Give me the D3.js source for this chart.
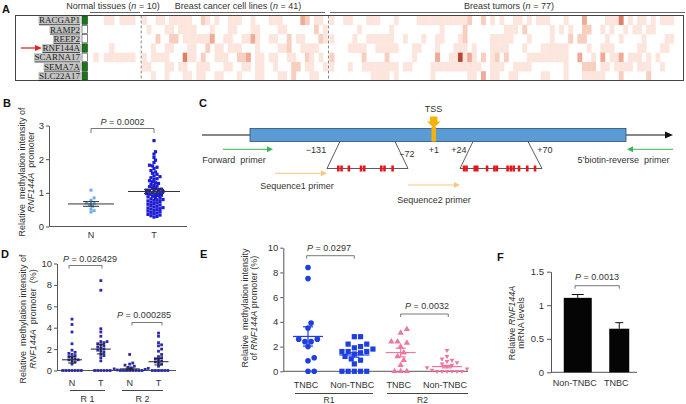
<!DOCTYPE html>
<html><head><meta charset="utf-8">
<script src="https://cdn.jsdelivr.net/npm/d3@7/dist/d3.min.js"></script>
<style>html,body{margin:0;padding:0;background:#fff}svg{display:block}text{white-space:pre}</style>
</head><body>
<svg id="fig" width="686" height="404"></svg>
<script>
// ================= DATA =================
const genes = ["RACGAP1","RAMP2","REEP2","RNF144A","SCARNA17","SEMA7A","SLC22A17"];
const geneMarked = [1,0,0,1,0,1,1];
const highlightGene = "RNF144A";
const heatGroupNames = ["Normal tissues","Breast cancer cell lines","Breast tumors"];
// methylation level per cell (0 = none ... 5 = highest), one string per gene
const heatNormal = [
  "0001101110","0000000000","0000000000","0000100000","0101111110","0000000000","0000000000"];
const heatCellLines = [
  ["1001101111","1002101001","1100100011","1000032011","0"],
  ["0100011011","1100010001","1000110000","1100000020","1"],
  ["0002002201","1111130011","0011310011","0020110002","1"],
  ["0010011000","1100201101","1100010000","1120011110","0"],
  ["1011110004","1102001110","0223011011","0011002101","0"],
  ["1100011011","0011100011","0011011001","0002201100","1"],
  ["0010010001","1011001100","0100011000","1102000110","0"]].map(a => a.join(""));
const heatTumors = [
  ["1001100011","1000100001","1111111111","2002010100","1101011100","0100030000","1114010110","1011100"],
  ["0000001000","0001000000","0000100002","0000000011","1020000010","1010022001","0100101101","1000000"],
  ["1000010011","1111001000","1001100012","0000011111","0001000010","0020220000","1001000010","0001100"],
  ["0000111100","1111100011","0001000111","0100011110","0010001111","1100001001","1100000110","0011000"],
  ["2000000200","0020000010","0003001151","3102012020","0001111111","1100300103","0113011101","0100000"],
  ["1000100111","1111101100","0011111111","1110011100","1111000000","0100022201","1011110111","0010000"],
  ["0000000001","1110100000","0010000000","1103011001","1000001100","0100011111","0002000002","0000000"]].map(a => a.join(""));

// Panel B
const bCats = ["N","T"];
const bNormal = [1.08,0.85,0.78,0.70,0.68,0.65,0.60,0.52,0.47,0.43];
const bTumor = [2.55,2.22,2.15,2.05,1.97,1.90,1.82,1.80,1.76,1.72,
  1.66,1.62,1.58,1.55,1.50,1.48,1.45,1.42,1.40,1.36,
  1.33,1.30,1.28,1.25,1.22,1.20,1.18,1.15,1.13,1.11,
  1.10,1.08,1.06,1.05,1.04,1.02,1.00,0.99,0.98,0.96,
  0.95,0.93,0.92,0.90,0.88,0.86,0.84,0.82,0.80,0.79,
  0.78,0.76,0.74,0.72,0.70,0.68,0.66,0.64,0.62,0.60,
  0.58,0.56,0.55,0.53,0.52,0.50,0.48,0.46,0.44,0.42,
  0.40,0.38,0.36,0.34,0.32,0.30,0.28];
const bMean = [0.67,1.04];
const bSem = [0.07,0.06];
const bP = "0.0002";
const bTicks = [0,1,2,3];

// Panel D
const dCats = ["N","T","N","T"];
const dRegions = ["R 1","R 2"];
const dR1N = [4.8,4.3,3.6,2.5,1.9,1.7,1.6,1.5,1.4,1.3,1.2,1.1,1.0,1.0,0.9,0.8,0.6,0,0,0,0,0,0,0];
const dR1T = [8.4,7.5,3.9,3.6,3.2,2.7,2.7,2.6,2.5,2.4,2.3,2.2,2.1,2.0,1.9,1.8,1.7,1.5,1.4,1.2,0.9,0,0,0,0,0,0];
const dR2N = [1.5,0.7,0.6,0.5,0.4,0.3,0.25,0.2,0.15,0.1,0.05,0,0,0,0,0,0,0,0];
const dR2T = [3.5,3.2,2.6,2.4,2.3,2.0,1.8,1.5,1.3,1.2,1.1,1.0,0.9,0.8,0.7,0.6,0.4,0,0,0,0,0,0];
const dMean = [1.0,2.0,0.15,0.82];
const dSem = [0.3,0.45,0.08,0.3];
const dP = ["0.026429","0.000285"];
const dTicks = [0,2,4,6,8,10];

// Panel E
const eCats = ["TNBC","Non-TNBC","TNBC","Non-TNBC"];
const eRegions = ["R1","R2"];
const eR1TNBC = [8.4,7.5,3.9,3.5,2.6,2.6,2.4,2.4,2.0,1.1,0.85,0,0];
const eR1Non = [2.8,2.8,2.2,2.2,2.0,1.9,1.8,1.6,1.6,1.6,1.5,1.4,1.2,1.0,0.9,0.6,0,0,0,0,0];
const eR2TNBC = [3.4,3.1,2.4,2.4,2.3,2.0,1.5,1.2,0.9,0.5,0,0,0];
const eR2Non = [1.7,1.2,1.0,0.9,0.8,0.7,0.6,0.5,0.4,0.3,0.2,0.1,0,0,0,0,0,0];
const eMean = [2.82,1.32,1.52,0.38];
const eSem = [0.78,0.18,0.35,0.1];
const eP = ["0.0297","0.0032"];
const eTicks = [0,2,4,6,8,10];

// Panel F
const fCats = ["Non-TNBC","TNBC"];
const fValues = [1.11,0.65];
const fErr = [0.05,0.09];
const fP = "0.0013";
const fTicks = [0,0.5,1,1.5];

// Panel C
const cSites = ["\u2212131","\u221272","+1","+24","+70"];
const cpg1 = [0.14,0.18,0.27,0.42,0.46,0.67,0.71,0.81];
const cpg2 = [0.05,0.08,0.18,0.21,0.33,0.42,0.45,0.58,0.62,0.655,0.72,0.82,0.915];

// ================= DRAW =================
const svg = d3.select("#fig");
const FONT = '"Liberation Sans", Arial, Helvetica, sans-serif';
const SERIF = '"Liberation Serif", "Times New Roman", serif';
const INK = "#333";
svg.attr("font-family", FONT);

function txt(g, x, y, s, o = {}) {
  return g.append("text").attr("x", x).attr("y", y).text(s)
    .attr("font-size", o.fs || 9).attr("fill", o.fill || INK)
    .attr("text-anchor", o.anchor || "middle")
    .attr("font-weight", o.bold ? "bold" : null);
}
function pText(g, x, y, val) {
  const t = g.append("text").attr("x", x).attr("y", y).attr("text-anchor", "middle")
    .attr("font-size", 9).attr("fill", INK);
  t.append("tspan").attr("font-style", "italic").text("P");
  t.append("tspan").text(" = " + val);
}
function bracket(g, x1, x2, y, h) {
  g.append("path").attr("d", `M${x1},${y + h}V${y}H${x2}V${y + h}`)
    .attr("fill", "none").attr("stroke", "#555").attr("stroke-width", 0.8);
}
function yLabel(g, x, y, parts, fs) {
  const t = g.append("text").attr("transform", `translate(${x},${y}) rotate(-90)`)
    .attr("text-anchor", "middle").attr("font-size", fs).attr("fill", INK);
  parts.forEach(([s, it]) => t.append("tspan").attr("font-style", it ? "italic" : null).text(s));
}
function yAxis(g, scale, x, ticks, fmt, ts, pad, fs) {
  const a = g.append("g").attr("transform", `translate(${x},0)`)
    .call(d3.axisLeft(scale).tickValues(ticks).tickFormat(fmt).tickSize(ts).tickPadding(pad).tickSizeOuter(0));
  a.attr("font-family", FONT).attr("font-size", fs);
  a.select(".domain").attr("stroke", "#555");
  a.selectAll(".tick line").attr("stroke", "#555");
  a.selectAll(".tick text").attr("fill", INK);
  return a;
}
function hline(g, x1, x2, y, c = "#555", w = 1) {
  g.append("line").attr("x1", x1).attr("x2", x2).attr("y1", y).attr("y2", y)
    .attr("stroke", c).attr("stroke-width", w);
}
// simple beeswarm layout: offsets computed from values and marker size
function swarm(values, ys, d) {
  const pts = values.map(v => ({ v, y: ys(v) })).sort((a, b) => b.y - a.y);
  const placed = [];
  for (const p of pts) {
    for (let i = 0; ; i++) {
      const c = i === 0 ? 0 : (i % 2 ? 1 : -1) * Math.ceil(i / 2) * d / 2;
      if (placed.every(q => (q.dx - c) ** 2 + (q.y - p.y) ** 2 >= d * d * 0.85)) { p.dx = c; break; }
    }
    placed.push(p);
  }
  return placed;
}
function scatter(g, values, cx, ys, d, shape, size, color) {
  const pts = swarm(values, ys, d);
  pts.forEach(p => {
    const x = cx + p.dx, y = p.y;
    if (shape === "square") {
      g.append("rect").attr("x", x - size / 2).attr("y", y - size / 2)
        .attr("width", size).attr("height", size).attr("fill", color);
    } else if (shape === "circle") {
      g.append("circle").attr("cx", x).attr("cy", y).attr("r", size / 2).attr("fill", color);
    } else {
      const sym = d3.symbol(d3.symbolTriangle, size * size * 0.45)();
      g.append("path").attr("d", sym).attr("fill", color)
        .attr("transform", `translate(${x},${y})${shape === "down" ? " rotate(180)" : ""}`);
    }
  });
}
function meanSem(g, cx, ys, m, s, half, cap, color, w) {
  hline(g, cx - half, cx + half, ys(m), color, w);
  g.append("line").attr("x1", cx).attr("x2", cx).attr("y1", ys(m + s)).attr("y2", ys(m - s))
    .attr("stroke", color).attr("stroke-width", w);
  hline(g, cx - cap, cx + cap, ys(m + s), color, w);
  hline(g, cx - cap, cx + cap, ys(m - s), color, w);
}

// panel letters
[["A", 2, 13], ["B", 3, 107], ["C", 199, 107], ["D", 1, 258], ["E", 200, 258], ["F", 497, 261]]
  .forEach(([l, x, y]) => txt(svg, x, y, l, { fs: 11, bold: true, anchor: "start", fill: "#111" }));

// ---------- Panel A: heatmap ----------
{
  const g = svg.append("g");
  const levels = ["#ffffff", "#fce5dc", "#f8cebf", "#f0aa95", "#e07f68", "#bd4330"];
  const yA = d3.scaleBand().domain(genes).range([15.5, 80.5]);
  const groups = [
    { rows: heatNormal, x0: 88, x1: 140.5, line: [90, 140], tx: 113 },
    { rows: heatCellLines, x0: 142, x1: 327.5, line: [143, 325], tx: 238 },
    { rows: heatTumors, x0: 329.5, x1: 683, line: [330, 685], tx: 509 }];
  groups.forEach((gr, gi) => {
    const n = gr.rows[0].length;
    const x = d3.scaleBand().domain(d3.range(n)).range([gr.x0, gr.x1]);
    genes.forEach((gene, r) => {
      gr.rows[r].split("").map(Number).forEach((v, c) => {
        if (v > 0) g.append("rect").attr("x", x(c)).attr("y", yA(gene))
          .attr("width", x.bandwidth() + 0.3).attr("height", yA.bandwidth() + 0.3)
          .attr("fill", levels[v]);
      });
    });
    const t = g.append("text").attr("x", gr.tx).attr("y", 8.5).attr("text-anchor", "middle")
      .attr("font-size", 9).attr("fill", INK);
    t.append("tspan").text(heatGroupNames[gi] + " (");
    t.append("tspan").attr("font-style", "italic").text("n");
    t.append("tspan").text(" = " + n + ")");
    hline(g, gr.line[0], gr.line[1], 12.5, "#666", 1);
  });
  [141.2, 328.5].forEach(xd => g.append("line").attr("x1", xd).attr("x2", xd).attr("y1", 15.5).attr("y2", 80.5)
    .attr("stroke", "#888").attr("stroke-width", 1).attr("stroke-dasharray", "3,2"));
  g.append("rect").attr("x", 15.5).attr("y", 15.5).attr("width", 668).attr("height", 65)
    .attr("fill", "none").attr("stroke", "#444").attr("stroke-width", 1);
  // gene labels
  genes.forEach((gene, i) => {
    const t = g.append("text").attr("x", 80).attr("y", yA(gene) + yA.bandwidth() / 2 + 3.2)
      .attr("text-anchor", "end").attr("font-family", SERIF).attr("font-size", 9)
      .attr("fill", "#222").attr("text-decoration", "underline").text(gene);
    const bb = t.node().getBBox();
    g.insert("rect", () => t.node()).attr("x", bb.x - 0.5).attr("y", yA(gene) + 0.6)
      .attr("width", bb.width + 1).attr("height", yA.bandwidth() - 1.2).attr("fill", "#c4c4c4");
    g.append("rect").attr("x", 82).attr("y", yA(gene) + 0.5).attr("width", 5.5).attr("height", yA.bandwidth() - 1)
      .attr("fill", geneMarked[i] ? "#137a13" : "#fff").attr("stroke", "#333").attr("stroke-width", 0.6);
  });
  const ya = yA(highlightGene) + yA.bandwidth() / 2;
  g.append("line").attr("x1", 21).attr("x2", 37).attr("y1", ya).attr("y2", ya).attr("stroke", "#e52222").attr("stroke-width", 1.3);
  g.append("path").attr("d", `M35,${ya - 3}L42,${ya}L35,${ya + 3}Z`).attr("fill", "#e52222");
}

// ---------- Panel B ----------
{
  const g = svg.append("g");
  const ys = d3.scaleLinear().domain([0, 3]).range([226.5, 125.5]);
  const xs = d3.scalePoint().domain(bCats).range([91, 154]);
  yAxis(g, ys, 49, bTicks, d3.format("d"), 3, 2, 9.5);
  hline(g, 49, 187, 226.5, "#555", 1);
  bCats.forEach(c => txt(g, xs(c), 238, c, { fs: 9 }));
  scatter(g, bNormal, xs("N"), ys, 3.1, "square", 3, "#6faee8");
  scatter(g, bTumor, xs("T"), ys, 3.0, "square", 3.2, "#1c1cd2");
  meanSem(g, xs("N"), ys, bMean[0], bSem[0], 23, 8, "#333", 1);
  meanSem(g, xs("T"), ys, bMean[1], bSem[1], 26, 10, "#333", 1);
  bracket(g, xs("N"), xs("T"), 128.5, 4.5);
  pText(g, (xs("N") + xs("T")) / 2, 124.5, bP);
  yLabel(g, 24.5, 172, [["Relative  methylation intensity of", false]], 9);
  yLabel(g, 34, 172, [["RNF144A", true], ["  promoter", false]], 9);
}

// ---------- Panel C: promoter diagram ----------
{
  const g = svg.append("g");
  const ly = 135;
  g.append("line").attr("x1", 202).attr("x2", 668).attr("y1", ly).attr("y2", ly).attr("stroke", "#111").attr("stroke-width", 1);
  g.append("path").attr("d", `M665,${ly - 3.5}L673,${ly}L665,${ly + 3.5}Z`).attr("fill", "#111");
  g.append("rect").attr("x", 250).attr("y", 128.5).attr("width", 376).attr("height", 13)
    .attr("fill", "#5b9bd5").attr("stroke", "#2f4f70").attr("stroke-width", 0.8);
  // TSS
  g.append("rect").attr("x", 431.5).attr("y", 127).attr("width", 4.5).attr("height", 14.5).attr("fill", "#f5b30a");
  g.append("path").attr("d", "M430,116.5H437.5V121.5H440.5L433.75,128L427,121.5H430Z").attr("fill", "#f5b30a");
  txt(g, 433.5, 112, "TSS", { fs: 9 });
  // site labels
  const sx = [316, 407, 434, 459, 545], sy = [153, 156.5, 153, 153, 153];
  cSites.forEach((s, i) => txt(g, sx[i], sy[i], s, { fs: 9 }));
  // trapezoids
  const traps = [{ t: [340, 395], b: [327, 408], cpg: cpg1 }, { t: [473, 528], b: [460, 542], cpg: cpg2 }];
  traps.forEach(tp => {
    g.append("path").attr("d", `M${tp.t[0]},141.5L${tp.b[0]},168.5H${tp.b[1]}L${tp.t[1]},141.5`)
      .attr("fill", "none").attr("stroke", "#333").attr("stroke-width", 0.8);
    const xs = d3.scaleLinear().domain([0, 1]).range(tp.b);
    tp.cpg.forEach(p => g.append("rect").attr("x", xs(p) - 1.3).attr("y", 165.5).attr("width", 2.6).attr("height", 6).attr("fill", "#e8141a"));
  });
  function arrow(x1, x2, y, color) {
    const dir = Math.sign(x2 - x1);
    g.append("line").attr("x1", x1).attr("x2", x2 - dir * 4).attr("y1", y).attr("y2", y).attr("stroke", color).attr("stroke-width", 1);
    g.append("path").attr("d", `M${x2 - dir * 6},${y - 3}L${x2},${y}L${x2 - dir * 6},${y + 3}Z`).attr("fill", color);
  }
  arrow(223, 273, 149.3, "#3bb35a");
  arrow(673, 627, 149.3, "#3bb35a");
  arrow(275, 327, 173.3, "#fbc77a");
  arrow(408, 460, 185, "#fbc77a");
  txt(g, 234, 163, "Forward  primer", { fs: 9 });
  txt(g, 623.5, 163, "5\u2019biotin-reverse  primer", { fs: 9 });
  txt(g, 297, 189, "Sequence1 primer", { fs: 9 });
  txt(g, 434, 203, "Sequence2 primer", { fs: 9 });
}

// ---------- Panel D ----------
{
  const g = svg.append("g");
  const ys = d3.scaleLinear().domain([0, 10]).range([370.5, 263.5]);
  const xs = d3.scalePoint().domain(d3.range(4)).range([72, 158.5]);
  yAxis(g, ys, 57, dTicks, d3.format("d"), 3, 2, 9.5);
  hline(g, 57, 176, 370.5, "#555", 1);
  dCats.forEach((c, i) => txt(g, xs(i), 386, c, { fs: 9 }));
  [[70, 105], [122, 163]].forEach((r, i) => {
    hline(g, r[0], r[1], 390.5, "#444", 1);
    txt(g, (r[0] + r[1]) / 2, 401.5, dRegions[i], { fs: 9 });
  });
  [dR1N, dR1T, dR2N, dR2T].forEach((vals, i) => {
    scatter(g, vals, xs(i), ys, 3.1, "square", 2.8, "#2b2ba6");
    meanSem(g, xs(i), ys, dMean[i], dSem[i], 10, 4, "#222", 1);
  });
  bracket(g, 69, 102, 265.5, 3);
  pText(g, 90, 261.5, dP[0]);
  bracket(g, 132, 162, 322.5, 3);
  pText(g, 144, 318, dP[1]);
  yLabel(g, 26, 319, [["Relative  methylation intensity of", false]], 9);
  yLabel(g, 35.5, 319, [["RNF144A", true], ["  promoter  (%)", false]], 9);
}

// ---------- Panel E ----------
{
  const g = svg.append("g");
  const ys = d3.scaleLinear().domain([0, 10]).range([371.3, 247.7]);
  const xs = d3.scalePoint().domain(d3.range(4)).range([308, 447]);
  yAxis(g, ys, 283.3, eTicks, d3.format("d"), 3, 2, 9.5);
  hline(g, 283.3, 468, 371.3, "#555", 1);
  eCats.forEach((c, i) => txt(g, xs(i) - 2, 387.5, c, { fs: 9 }));
  [[295, 373], [387, 468]].forEach((r, i) => {
    hline(g, r[0], r[1], 393.5, "#444", 1);
    txt(g, (r[0] + r[1]) / 2 - 5, 402.5, eRegions[i], { fs: 8.5 });
  });
  const blue = "#1e3fe0", pink = "#f0769e";
  scatter(g, eR1TNBC, xs(0), ys, 6.2, "circle", 5.6, blue);
  scatter(g, eR1Non, xs(1), ys, 6.2, "square", 5.2, blue);
  scatter(g, eR2TNBC, xs(2), ys, 6.2, "up", 6.2, pink);
  scatter(g, eR2Non, xs(3), ys, 5.0, "down", 4.6, pink);
  [blue, blue, pink, pink].forEach((col, i) => meanSem(g, xs(i), ys, eMean[i], eSem[i], 15, 5, col, 1.2));
  bracket(g, 306.7, 354.3, 255.7, 3);
  pText(g, 329, 251, eP[0]);
  bracket(g, 400.7, 448.3, 314, 3);
  pText(g, 427, 308.5, eP[1]);
  yLabel(g, 248, 308, [["Relative  methylation intensity", false]], 9);
  yLabel(g, 257, 308, [["of ", false], ["RNF144A", true], [" promoter (%)", false]], 9);
}

// ---------- Panel F ----------
{
  const g = svg.append("g");
  const ys = d3.scaleLinear().domain([0, 1.5]).range([372.3, 271.7]);
  const xs = d3.scaleBand().domain(fCats).range([557, 640]);
  yAxis(g, ys, 551, fTicks, d3.format("~g"), 4, 3, 9.5);
  hline(g, 551, 637, 372.3, "#555", 1);
  const barW = [28, 20], capW = [6, 4];
  fCats.forEach((c, i) => {
    const cx = xs(c) + xs.bandwidth() / 2;
    g.append("line").attr("x1", cx).attr("x2", cx).attr("y1", ys(fValues[i])).attr("y2", ys(fValues[i] + fErr[i])).attr("stroke", "#111").attr("stroke-width", 1);
    hline(g, cx - capW[i], cx + capW[i], ys(fValues[i] + fErr[i]), "#111", 1);
    g.append("rect").attr("x", cx - barW[i] / 2).attr("y", ys(fValues[i])).attr("width", barW[i])
      .attr("height", ys(0) - ys(fValues[i])).attr("fill", "#050505");
    txt(g, cx - 3, 386, c, { fs: 9 });
  });
  bracket(g, 575, 619.3, 285.7, 3);
  pText(g, 597, 280, fP);
  yLabel(g, 515, 323, [["Relative ", false], ["RNF144A", true]], 9);
  yLabel(g, 524, 323, [["mRNA levels", false]], 9);
}
</script>
</body></html>
